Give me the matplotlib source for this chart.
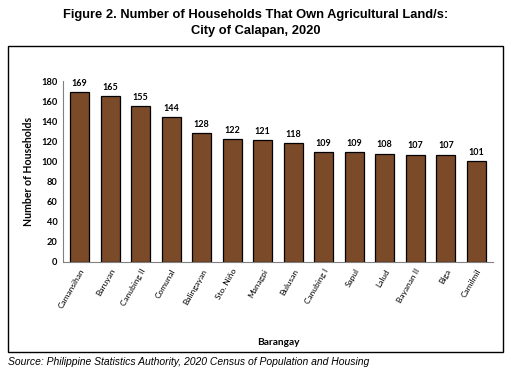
import matplotlib
matplotlib.use('Agg')
import matplotlib.pyplot as plt
from matplotlib.patches import Rectangle

# Data
barangays = ['Camansihan', 'Baruyan', 'Canubing II', 'Comunal', 'Balingayan',
             'Sto. Niño', 'Managpi', 'Bulusan', 'Canubing I', 'Sapul',
             'Lalud', 'Bayanan II', 'Biga', 'Camilmil']
households = [169, 165, 155, 144, 128, 122, 121, 118, 109, 109, 108, 107,
              107, 101]
yticks = list(range(0, 181, 20))

bar_color = '#7B4A28'
tick_font = 'Lato'

fig = plt.figure(figsize=(5.11, 3.69), dpi=100)
fig.patch.set_facecolor('white')

# Title
fig.text(0.5, 0.958, 'Figure 2. Number of Households That Own Agricultural Land/s:',
         ha='center', va='center', fontsize=9.3, fontweight='bold',
         family='Liberation Sans')
fig.text(0.5, 0.916, 'City of Calapan, 2020', ha='center', va='center',
         fontsize=9.3, fontweight='bold', family='Liberation Sans')

# Border around chart area
border = Rectangle((0.016, 0.046), 0.968, 0.829, transform=fig.transFigure,
                   fill=False, edgecolor='black', linewidth=1.0)
fig.add_artist(border)

ax = fig.add_axes([0.123, 0.29, 0.842, 0.49])
pos = list(range(len(barangays)))
ax.bar(pos, households, width=0.62, color=bar_color, edgecolor='black',
       linewidth=0.9, zorder=2)
ax.set_xlim(-0.55, len(barangays) - 0.45)
ax.set_ylim(0, 180)
ax.set_yticks(yticks)
ax.set_yticklabels([str(v) for v in yticks], fontsize=6.7, fontweight='bold',
                   family=tick_font)
ax.set_xticks(pos)
ax.set_xticklabels(barangays, rotation=60, ha='right', rotation_mode='anchor',
                   fontsize=6, family=tick_font)
ax.tick_params(axis='both', length=0, pad=4)

for side in ['top', 'right']:
    ax.spines[side].set_visible(False)
ax.spines['left'].set_color('#808080')
ax.spines['bottom'].set_color('#808080')

for i, value in enumerate(households):
    ax.text(i, value + 4, str(value), ha='center', va='bottom', fontsize=6.5,
            fontweight='bold', family=tick_font)

ax.set_ylabel('Number of Households', fontsize=7.6, fontweight='bold',
              family=tick_font, labelpad=5)
fig.text(0.545, 0.073, 'Barangay', ha='center', va='center', fontsize=7.3,
         fontweight='bold', family=tick_font)

# Source note
fig.text(0.016, 0.018, 'Source: Philippine Statistics Authority, 2020 Census of Population and Housing',
         ha='left', va='center', fontsize=7.5, style='italic',
         family='Liberation Sans')

fig.savefig('out.png', dpi=100)
